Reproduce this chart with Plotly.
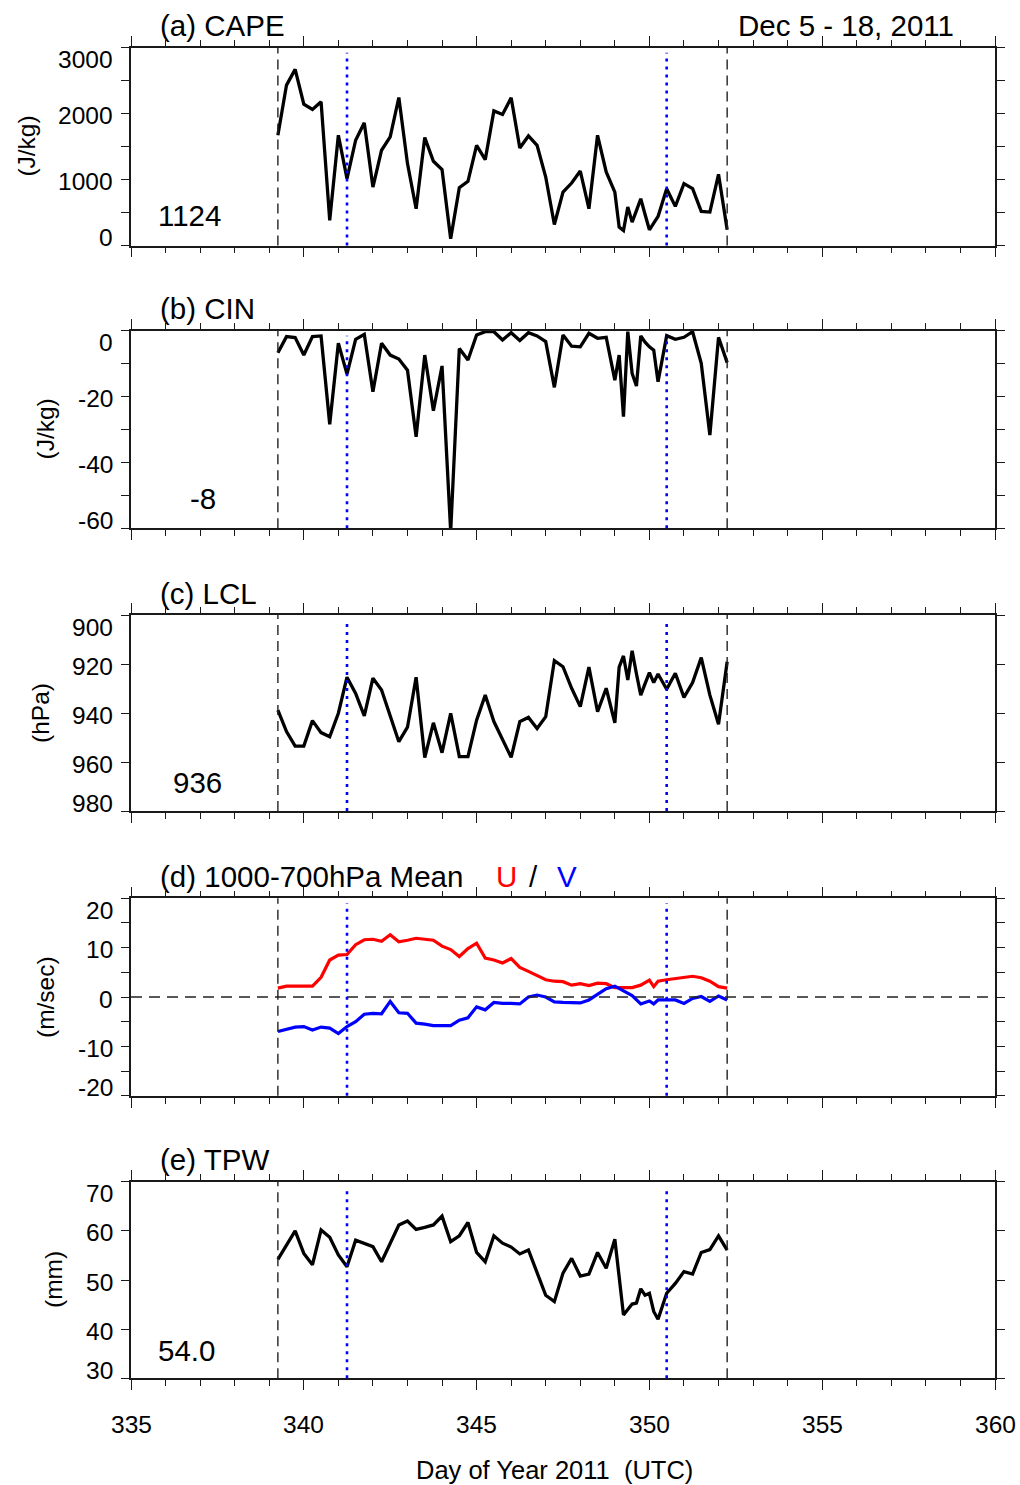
import plotly.graph_objects as go

W, H = 1020, 1485

# ---------------- data ----------------
# sounding times, day of year 2011 (UTC)
t_sonde = [339.25, 339.5, 339.75, 340.0, 340.25, 340.5, 340.75, 341.0, 341.25, 341.5,
           341.75, 342.0, 342.25, 342.5, 342.75, 343.0, 343.25, 343.5, 343.75, 344.0,
           344.25, 344.5, 344.75, 345.0, 345.25, 345.5, 345.75, 346.0, 346.25, 346.5,
           346.75, 347.0, 347.25, 347.5, 347.75, 348.0, 348.25, 348.5, 348.75, 349.0,
           349.125, 349.25, 349.375, 349.5, 349.625, 349.75, 349.875, 350.0, 350.125, 350.25,
           350.5, 350.75, 351.0, 351.25, 351.5, 351.75, 352.0, 352.25]

cape = [1672, 2433, 2671, 2144, 2063, 2179, 380, 1672, 1014, 1597,
        1860, 887, 1445, 1647, 2245, 1242, 558, 1637, 1277, 1151,
        102, 877, 973, 1520, 1303, 2042, 1987, 2240, 1479, 1662,
        1520, 1038, 319, 810, 947, 1130, 558, 1672, 1115, 810,
        278, 228, 583, 354, 530, 710, 470, 238, 340, 441,
        862, 593, 938, 862, 517, 507, 1080, 238]

cin = [-6.7, -1.8, -2.1, -7.4, -1.8, -1.6, -28.4, -3.8, -13.2, -2.6,
       -1.1, -18.5, -3.8, -7.4, -8.6, -12.0, -32.2, -7.4, -24.3, -10.7,
       -61.0, -5.4, -8.9, -1.3, -0.3, -0.3, -2.8, -0.6, -3.0, -0.6,
       -1.6, -3.3, -17.2, -1.3, -4.7, -4.9, -0.8, -2.3, -2.0, -15.0,
       -7.4, -26.1, -0.3, -13.0, -16.8, -1.6, -3.5, -4.9, -5.9, -15.5,
       -1.5, -2.6, -2.0, -0.3, -9.9, -31.7, -2.0, -9.7]

lcl = [938.8, 947.6, 953.5, 953.5, 943.1, 948.0, 949.7, 940.1, 925.4, 932.0,
       941.2, 925.8, 930.6, 941.2, 951.7, 945.8, 925.4, 958.2, 944.0, 956.2,
       940.1, 957.8, 957.8, 942.9, 932.7, 943.5, 951.0, 958.1, 943.5, 941.8,
       946.3, 941.5, 918.6, 921.1, 929.9, 937.4, 921.3, 939.5, 929.9, 944.0,
       921.3, 916.7, 926.5, 914.6, 924.0, 932.7, 928.0, 923.5, 927.6, 924.1,
       930.3, 923.8, 933.6, 927.6, 917.4, 932.7, 944.6, 919.1]

tpw = [54.2, 57.1, 60.0, 55.4, 53.1, 60.2, 58.7, 55.1, 52.7, 58.1,
       57.5, 56.8, 53.7, 57.5, 61.2, 62.0, 60.3, 60.7, 61.2, 63.0,
       57.8, 59.0, 61.7, 55.6, 53.7, 59.0, 57.5, 56.7, 55.3, 56.1,
       51.7, 46.9, 45.6, 51.4, 54.4, 50.8, 51.2, 55.6, 52.4, 58.3,
       50.6, 42.9, 44.0, 45.1, 45.3, 48.2, 46.9, 47.3, 43.6, 42.0,
       47.3, 49.3, 51.7, 51.2, 55.6, 56.2, 59.0, 56.1]

t_wind = [339.25, 339.5, 339.75, 340.0, 340.25, 340.5, 340.75, 341.0, 341.25, 341.5,
          341.75, 342.0, 342.25, 342.5, 342.75, 343.0, 343.25, 343.5, 343.75, 344.0,
          344.25, 344.5, 344.75, 345.0, 345.25, 345.5, 345.75, 346.0, 346.25, 346.5,
          346.75, 347.0, 347.25, 347.5, 347.75, 348.0, 348.25, 348.5, 348.75, 349.0,
          349.25, 349.5, 349.75, 350.0, 350.125, 350.25, 350.5, 350.75, 351.0, 351.25,
          351.5, 351.75, 352.0, 352.25]

u_wind = [1.8, 2.2, 2.2, 2.2, 2.2, 4.0, 7.5, 8.5, 8.6, 10.6,
          11.6, 11.7, 11.3, 12.6, 11.2, 11.5, 11.9, 11.7, 11.5, 10.3,
          9.6, 8.2, 9.8, 10.9, 7.9, 7.5, 6.9, 7.8, 6.0, 5.2,
          4.3, 3.5, 3.2, 3.1, 2.4, 2.7, 2.3, 2.8, 2.7, 1.9,
          1.9, 1.9, 2.4, 3.4, 2.1, 3.2, 3.5, 3.7, 3.9, 4.2,
          3.9, 3.2, 2.1, 1.8]

v_wind = [-7.0, -6.5, -6.1, -6.0, -6.7, -6.1, -6.3, -7.4, -6.0, -5.0,
          -3.5, -3.3, -3.4, -0.9, -3.2, -3.3, -5.3, -5.5, -5.8, -5.8,
          -5.8, -4.7, -4.2, -2.0, -2.6, -1.1, -1.3, -1.3, -1.4, 0.0,
          0.4, 0.0, -1.0, -1.1, -1.1, -1.2, -0.6, 0.5, 1.7, 2.2,
          1.3, 0.3, -1.4, -0.8, -1.4, -0.6, -0.6, -0.6, -1.3, -0.3,
          0.1, -0.9, 0.2, -0.6]

period_bounds = [339.25, 352.25]      # black dashed lines
iop_bounds = [341.25, 350.5]          # blue dotted lines

panel_titles = ["(a) CAPE", "(b) CIN", "(c) LCL", "(d) 1000-700hPa Mean", "(e) TPW"]
units = ["(J/kg)", "(J/kg)", "(hPa)", "(m/sec)", "(mm)"]
means = ["1124", "-8", "936", "", "54.0"]
y_ranges = [[0, 3000], [-60, 0], [980, 900], [-20, 20], [30, 70]]
y_ticks = [[0, 1000, 2000, 3000], [-60, -40, -20, 0], [900, 920, 940, 960, 980],
           [-20, -10, 0, 10, 20], [30, 40, 50, 60, 70]]
y_minor = [500, 10, None, 5, None]
x_ticks = [335, 340, 345, 350, 355, 360]
date_label = "Dec 5 - 18, 2011"
x_title = "Day of Year 2011  (UTC)"

# ---------------- layout geometry (pixels) ----------------
X0, X1 = 131, 995
panel_px = [(47.7, 245.5), (330.7, 528.3), (615.0, 811.0), (898.3, 1095.7), (1181.7, 1378.3)]
ytitle_x = [27, 45, 40, 45, 53]
mean_pos = [(189, 215), (203, 499), (197, 782), None, (186, 1350)]


def px_x(x):
    return x / W


def px_y(y):
    return 1 - y / H


FONT = "Liberation Sans, Arial, Helvetica, sans-serif"
TICK_FS = 24.5
TITLE_FS = 29.5
fig = go.Figure()

series = [(t_sonde, cape), (t_sonde, cin), (t_sonde, lcl), None, (t_sonde, tpw)]
for i in range(5):
    xa = "x" if i == 0 else f"x{i+1}"
    ya = "y" if i == 0 else f"y{i+1}"
    if i == 3:
        fig.add_trace(go.Scatter(x=t_wind, y=u_wind, mode="lines",
                                 line=dict(color="#ff0000", width=3.2), xaxis=xa, yaxis=ya,
                                 showlegend=False))
        fig.add_trace(go.Scatter(x=t_wind, y=v_wind, mode="lines",
                                 line=dict(color="#0000ff", width=3.2), xaxis=xa, yaxis=ya,
                                 showlegend=False))
    else:
        tx, vy = series[i]
        fig.add_trace(go.Scatter(x=tx, y=vy, mode="lines",
                                 line=dict(color="black", width=3.3), xaxis=xa, yaxis=ya,
                                 showlegend=False))

layout = dict(width=W, height=H, autosize=False,
              margin=dict(l=0, r=0, t=0, b=0, pad=0),
              paper_bgcolor="white", plot_bgcolor="white",
              font=dict(family=FONT, color="black", size=TICK_FS),
              showlegend=False)

shapes = []
annotations = []
for i in range(5):
    sfx = "" if i == 0 else str(i + 1)
    top, bot = panel_px[i]
    xax = dict(domain=[px_x(X0), px_x(X1)], range=[335, 360], anchor="y" + sfx,
               showline=True, linecolor="#1a1a1a", linewidth=1.6, mirror="ticks",
               ticks="outside", ticklen=10, tickwidth=1.4, tickcolor="#1a1a1a",
               tickmode="array", tickvals=x_ticks, showticklabels=False,
               minor=dict(dtick=1, tick0=335, ticks="outside", ticklen=6, tickwidth=1.2,
                          tickcolor="#1a1a1a", showgrid=False),
               showgrid=False, zeroline=False, fixedrange=True)
    yax = dict(domain=[px_y(bot), px_y(top)], range=y_ranges[i], anchor="x" + sfx,
               showline=True, linecolor="#1a1a1a", linewidth=1.6, mirror="ticks",
               ticks="outside", ticklen=8, tickwidth=1.4, tickcolor="#1a1a1a",
               tickmode="array", tickvals=y_ticks[i], showticklabels=False,
               showgrid=False, zeroline=False, fixedrange=True)
    if y_minor[i]:
        yax["minor"] = dict(dtick=y_minor[i], ticks="outside", ticklen=8, tickwidth=1.2,
                            tickcolor="#1a1a1a", showgrid=False)
    layout["xaxis" + sfx] = xax
    layout["yaxis" + sfx] = yax

    xref = "x" + sfx
    yref = "y" + sfx
    # reference vertical lines
    for xb in period_bounds:
        shapes.append(dict(type="line", xref=xref, yref=yref + " domain", x0=xb, x1=xb,
                           y0=0, y1=1, line=dict(color="#222222", width=1.4, dash="10px,6px")))
    for xb in iop_bounds:
        shapes.append(dict(type="line", xref=xref, yref=yref + " domain", x0=xb, x1=xb,
                           y0=0, y1=0.975, line=dict(color="#0000ff", width=2.6, dash="3px,5px")))
    if i == 3:
        shapes.append(dict(type="line", xref=xref + " domain", yref=yref, x0=0, x1=1,
                           y0=0, y1=0, line=dict(color="#222222", width=1.4, dash="11px,7px")))

    # y tick labels
    yt = y_ticks[i]
    lo, hi = y_ranges[i]
    for v in yt:
        if v == hi:
            shift = -12
        elif v == lo:
            shift = 8
        else:
            shift = -2
        annotations.append(dict(xref="paper", yref=yref, x=px_x(115), y=v, text=str(v),
                                xanchor="right", yanchor="middle", yshift=shift,
                                showarrow=False, font=dict(size=TICK_FS, family=FONT)))
    # y title
    annotations.append(dict(xref="paper", yref="paper", x=px_x(ytitle_x[i]),
                            y=px_y((top + bot) / 2), text=units[i], textangle=-90,
                            xanchor="center", yanchor="middle", showarrow=False,
                            font=dict(size=TICK_FS, family=FONT)))
    # panel title
    annotations.append(dict(xref="paper", yref="paper", x=px_x(158), y=px_y(top - 22),
                            text=panel_titles[i], xanchor="left", yanchor="middle",
                            showarrow=False, font=dict(size=TITLE_FS, family=FONT)))
    # mean value
    if means[i]:
        mx, my = mean_pos[i]
        annotations.append(dict(xref="paper", yref="paper", x=px_x(mx), y=px_y(my),
                                text=means[i], xanchor="center", yanchor="middle",
                                showarrow=False, font=dict(size=TITLE_FS, family=FONT)))

# U / V coloured legend text in panel (d)
d_top = panel_px[3][0]
annotations.append(dict(xref="paper", yref="paper", x=px_x(494), y=px_y(d_top - 22), text="U",
                        xanchor="left", yanchor="middle", showarrow=False,
                        font=dict(size=TITLE_FS, family=FONT, color="#ff0000")))
annotations.append(dict(xref="paper", yref="paper", x=px_x(533), y=px_y(d_top - 22), text="/",
                        xanchor="center", yanchor="middle", showarrow=False,
                        font=dict(size=TITLE_FS, family=FONT, color="black")))
annotations.append(dict(xref="paper", yref="paper", x=px_x(555), y=px_y(d_top - 22), text="V",
                        xanchor="left", yanchor="middle", showarrow=False,
                        font=dict(size=TITLE_FS, family=FONT, color="#0000ff")))

# date label
annotations.append(dict(xref="paper", yref="paper", x=px_x(956), y=px_y(25), text=date_label,
                        xanchor="right", yanchor="middle", showarrow=False,
                        font=dict(size=TITLE_FS, family=FONT)))

# x tick labels (bottom panel only)
for v in x_ticks:
    annotations.append(dict(xref="x5", yref="paper", x=v, y=px_y(1424), text=str(v),
                            xanchor="center", yanchor="middle", showarrow=False,
                            font=dict(size=TICK_FS, family=FONT)))
annotations.append(dict(xref="paper", yref="paper", x=px_x(554), y=px_y(1470), text=x_title,
                        xanchor="center", yanchor="middle", showarrow=False,
                        font=dict(size=25.5, family=FONT)))

layout["shapes"] = shapes
layout["annotations"] = annotations
fig.update_layout(**layout)
fig.write_html("out.html")
